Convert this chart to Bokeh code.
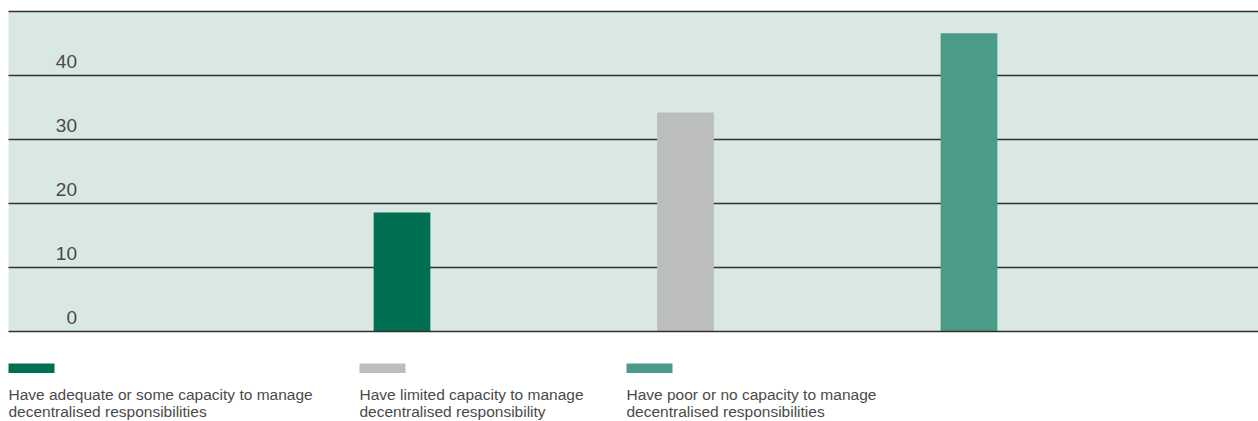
from bokeh.plotting import figure
from bokeh.models import Range1d
from bokeh.core.properties import value
from bokeh.embed import file_html
from bokeh.resources import INLINE

# ---- data ----
categories = [
    "Have adequate or some capacity to manage\ndecentralised responsibilities",
    "Have limited capacity to manage\ndecentralised responsibility",
    "Have poor or no capacity to manage\ndecentralised responsibilities",
]
values = [18.6, 34.2, 46.6]
colors = ["#006e51", "#bcbdbf", "#4a9b87"]
tick_values = [0, 10, 20, 30, 40]
grid_values = [0, 10, 20, 30, 40, 50]

# ---- layout (screen px, page origin) ----
W, H = 1258, 421
px_per_unit_x = 283.5        # screen px per category step
px_per_unit_y = 6.4          # screen px per value unit
first_center_px = 401.5      # screen px of first bar center
zero_px = 331                # screen px of the zero line from top
chart_left_px = 8
bar_width = 0.2

x0 = 1 - first_center_px / px_per_unit_x
x1 = x0 + W / px_per_unit_x
y1 = zero_px / px_per_unit_y
y0 = -(H - zero_px) / px_per_unit_y


def sx(px):
    return x0 + px / px_per_unit_x


def sy(py):
    return (zero_px - py) / px_per_unit_y


p = figure(width=W, height=H, output_backend="svg", toolbar_location=None,
           x_range=Range1d(x0, x1), y_range=Range1d(y0, y1),
           min_border=0, outline_line_color=None,
           background_fill_color="white", border_fill_color="white")
p.axis.visible = False
p.grid.visible = False

cl = sx(chart_left_px)

# chart background
p.quad(left=[cl], right=[x1], bottom=[min(grid_values)], top=[max(grid_values)],
       fill_color="#d9e8e3", line_color=None)

# gridlines (non-zero first, below bars)
upper = [g for g in grid_values if g != 0]
p.segment(x0=[cl] * len(upper), x1=[x1] * len(upper), y0=upper, y1=upper,
          line_color="#303030", line_width=1.4)

# bars
xs = [i + 1 for i in range(len(values))]
p.vbar(x=xs, top=values, bottom=0, width=bar_width, fill_color=colors, line_color=None)

# zero line on top
p.segment(x0=[cl], x1=[x1], y0=[0], y1=[0], line_color="#303030", line_width=1.4)

# tick labels inside the plot
p.text(x=[sx(76.5)] * len(tick_values), y=tick_values,
       text=[str(t) for t in tick_values],
       text_font=value("Liberation Sans"), text_font_size="19px",
       text_color="#4a4a4a", text_align="right", text_baseline="alphabetic",
       y_offset=-14.5)

# custom legend below
legend_px = [8, 359, 626]
sw_w, sw_top, sw_bot = 46, 363, 372.5
p.quad(left=[sx(a) for a in legend_px], right=[sx(a + sw_w) for a in legend_px],
       top=[sy(sw_top)] * 3, bottom=[sy(sw_bot)] * 3,
       fill_color=colors, line_color=None)

lx, ly, lt = [], [], []
for a, lab in zip(legend_px, categories):
    for k, line in enumerate(lab.split("\n")):
        lx.append(sx(a))
        ly.append(sy(393.5 + k * 17.5))
        lt.append(line)
p.text(x=lx, y=ly, text=lt, text_font=value("Liberation Sans"),
       text_font_size="15.5px", text_color="#4a4a4a",
       text_align="left", text_baseline="alphabetic")

open("out.html", "w").write(file_html(p, INLINE))
